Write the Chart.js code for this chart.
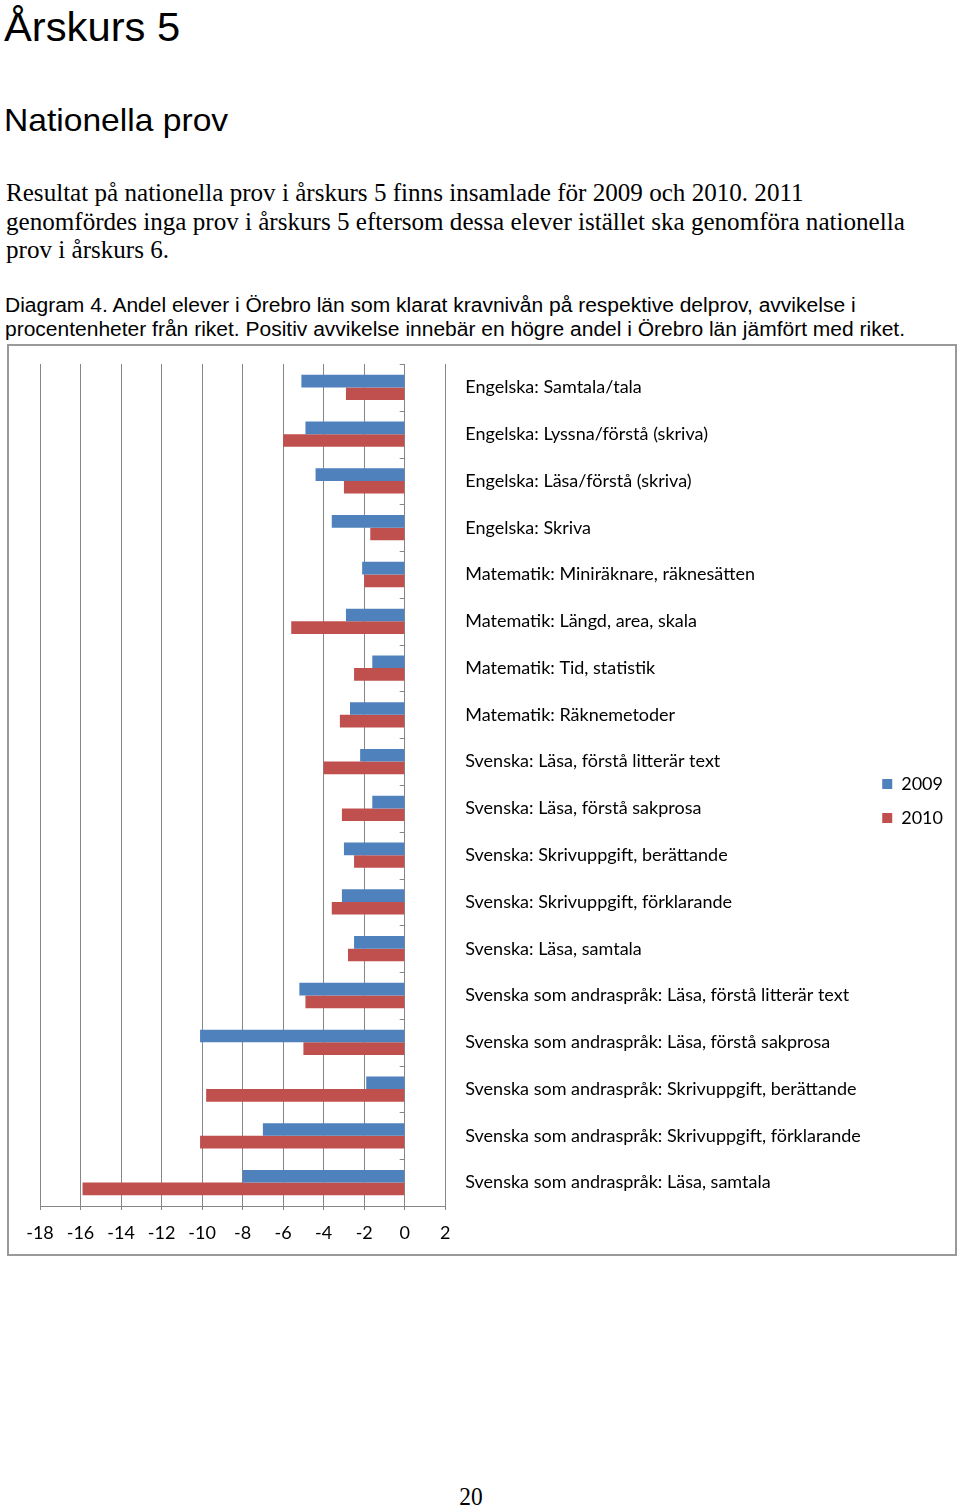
<!DOCTYPE html>
<html>
<head>
<meta charset="utf-8">
<script src="https://cdn.jsdelivr.net/npm/chart.js@4/dist/chart.umd.min.js"></script>
<style>
  html, body { margin: 0; padding: 0; background: #fff; }
  body { width: 960px; height: 1509px; position: relative; overflow: hidden; }
  .t { position: absolute; white-space: nowrap; color: #000; transform-origin: 0 0; }
  .sans { font-family: "Liberation Sans", Arial, sans-serif; }
  .serif { font-family: "Liberation Serif", "Times New Roman", serif; }
  #h1 { left: 4px; top: 4px; font-size: 40.5px; line-height: 46px; transform: scaleX(1.03); }
  #h2 { left: 4px; top: 101px; font-size: 32px; line-height: 38px; transform: scaleX(1.05); }
  #p1 { left: 6px; top: 179px; font-size: 26px; line-height: 28.5px; transform: scaleX(0.965); }
  #cap { left: 5px; top: 293px; font-size: 19.5px; line-height: 24px; transform: scaleX(1.077); }
  #pg { left: 431px; top: 1482px; width: 80px; text-align: center; font-size: 26px; line-height: 30px; transform: scaleX(0.9); transform-origin: 50% 0; }
  #frame { position: absolute; left: 7px; top: 344px; width: 950px; height: 912px; box-sizing: border-box; border: 2px solid #9a9a9a; }
  #wrap { position: absolute; left: 0; top: 0; width: 946px; height: 908px; }
</style>
</head>
<body>
<div class="t sans" id="h1">Årskurs 5</div>
<div class="t sans" id="h2">Nationella prov</div>
<div class="t serif" id="p1">Resultat på nationella prov i årskurs 5 finns insamlade för 2009 och 2010. 2011<br>genomfördes inga prov i årskurs 5 eftersom dessa elever istället ska genomföra nationella<br>prov i årskurs 6.</div>
<div class="t sans" id="cap">Diagram 4. Andel elever i Örebro län som klarat kravnivån på respektive delprov, avvikelse i<br>procentenheter från riket. Positiv avvikelse innebär en högre andel i Örebro län jämfört med riket.</div>
<div id="frame"><div id="wrap"><canvas id="c"></canvas></div></div>
<div class="t serif" id="pg">20</div>
<script>
const categories = [
  "Engelska: Samtala/tala",
  "Engelska: Lyssna/förstå (skriva)",
  "Engelska: Läsa/förstå (skriva)",
  "Engelska: Skriva",
  "Matematik: Miniräknare, räknesätten",
  "Matematik: Längd, area, skala",
  "Matematik: Tid, statistik",
  "Matematik: Räknemetoder",
  "Svenska: Läsa, förstå litterär text",
  "Svenska: Läsa, förstå sakprosa",
  "Svenska: Skrivuppgift, berättande",
  "Svenska: Skrivuppgift, förklarande",
  "Svenska: Läsa, samtala",
  "Svenska som andraspråk: Läsa, förstå litterär text",
  "Svenska som andraspråk: Läsa, förstå sakprosa",
  "Svenska som andraspråk: Skrivuppgift, berättande",
  "Svenska som andraspråk: Skrivuppgift, förklarande",
  "Svenska som andraspråk: Läsa, samtala"
];
const values2009 = [-5.1, -4.9, -4.4, -3.6, -2.1, -2.9, -1.6, -2.7, -2.2, -1.6, -3.0, -3.1, -2.5, -5.2, -10.1, -1.9, -7.0, -8.0];
const values2010 = [-2.9, -6.0, -3.0, -1.7, -2.0, -5.6, -2.5, -3.2, -4.0, -3.1, -2.5, -3.6, -2.8, -4.9, -5.0, -9.8, -10.1, -15.9];
const seriesNames = ["2009", "2010"];
const xMin = -18, xMax = 2, xStep = 2;

const gridColor = "#868686";
const labelFont = { family: "Lato, 'Open Sans', sans-serif", size: 18 };

// small tick marks on the zero line at category boundaries
const zeroTicks = {
  id: "zeroTicks",
  afterDatasetsDraw(chart) {
    const { ctx, scales: { x, y } } = chart;
    const x0 = x.getPixelForValue(0);
    ctx.save();
    ctx.strokeStyle = gridColor;
    ctx.lineWidth = 1;
    ctx.beginPath();
    for (let i = 0; i <= categories.length; i++) {
      const py = Math.round(y.getPixelForValue(i - 0.5)) + 0.5;
      ctx.moveTo(x0 - 5, py);
      ctx.lineTo(x0, py);
    }
    ctx.stroke();
    ctx.restore();
  }
};

new Chart(document.getElementById("c"), {
  type: "bar",
  data: {
    labels: categories,
    datasets: [
      { label: seriesNames[0], data: values2009, backgroundColor: "#4F81BD", borderWidth: 0 },
      { label: seriesNames[1], data: values2010, backgroundColor: "#C0504D", borderWidth: 0 }
    ]
  },
  options: {
    indexAxis: "y",
    responsive: true,
    maintainAspectRatio: false,
    animation: false,
    devicePixelRatio: 1,
    categoryPercentage: 0.54,
    barPercentage: 1.0,
    layout: { padding: { top: 2, left: 31, right: 2, bottom: 0 } },
    plugins: {
      legend: {
        position: "right",
        align: "center",
        labels: { boxWidth: 10, boxHeight: 10, padding: 16, color: "#000", font: labelFont }
      },
      tooltip: { enabled: false }
    },
    scales: {
      x: {
        type: "linear",
        min: xMin, max: xMax,
        ticks: { stepSize: xStep, color: "#000", font: labelFont, padding: 12 },
        grid: { color: gridColor, lineWidth: 1, drawTicks: true, tickLength: 4, tickColor: gridColor },
        border: { display: true, color: gridColor, width: 1 },
        afterFit(scale) { scale.height = 48; }
      },
      y: {
        position: "right",
        ticks: { color: "#000", font: labelFont, padding: 7.2, crossAlign: "near", autoSkip: false },
        grid: { display: false, drawTicks: true, tickLength: 12.8 },
        border: { display: false },
        afterFit(scale) { scale.width = 421; }
      }
    }
  },
  plugins: [zeroTicks]
});
</script>
</body>
</html>
